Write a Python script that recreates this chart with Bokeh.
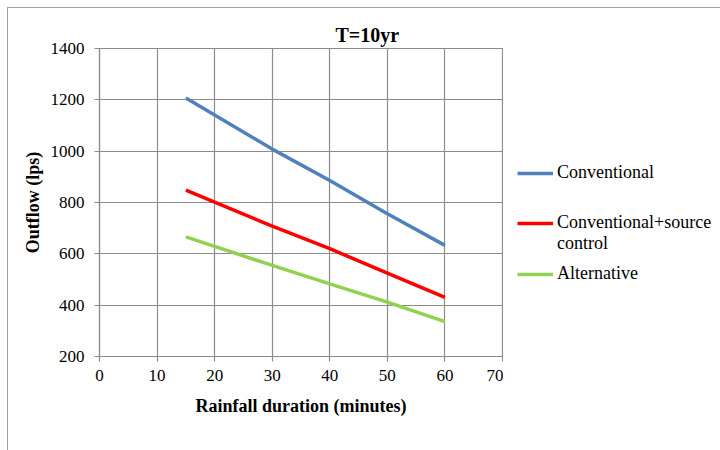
from bokeh.plotting import figure
from bokeh.layouts import row
from bokeh.models import Range1d, SingleIntervalTicker, Title, Legend, LegendItem
from bokeh.embed import file_html
from bokeh.resources import INLINE

durations = [15, 30, 40, 50, 60]
conventional = [1207, 1008, 886, 756, 633]
conv_source = [848, 708, 620, 525, 430]
alternative = [666, 555, 483, 412, 336]
series_names = ["Conventional", "Conventional+source", "control", "Alternative"]
series_colors = ["#4f81bd", "#ff0000", "#92d050"]
title_text = "T=10yr"
x_label = "Rainfall duration (minutes)"
y_label = "Outflow (lps)"

FONT = "Liberation Serif"
GRID = "#8c8c8c"

p = figure(width=495, height=442, output_backend="svg", toolbar_location=None,
           x_range=Range1d(0, 70), y_range=Range1d(200, 1400),
           min_border_left=91, min_border_right=1, min_border_top=40, min_border_bottom=94)
p.title = None
p.add_layout(Title(text=title_text, align="left", offset=236, text_font=FONT,
                   text_font_size="20px", text_font_style="bold", text_color="black",
                   standoff=6), "above")

p.outline_line_color = GRID
p.outline_line_width = 1.2
p.background_fill_color = "white"
p.border_fill_color = "white"

p.xaxis.ticker = SingleIntervalTicker(interval=10)
p.yaxis.ticker = SingleIntervalTicker(interval=200)
for ax in (p.xaxis, p.yaxis):
    ax.axis_line_color = GRID
    ax.axis_line_width = 1.2
    ax.major_tick_line_color = GRID
    ax.major_tick_line_width = 1.2
    ax.major_tick_out = 5
    ax.major_tick_in = 0
    ax.minor_tick_line_color = None
    ax.major_label_text_font = FONT
    ax.major_label_text_font_size = "17px"
    ax.major_label_text_color = "black"
    ax.axis_label_text_font = FONT
    ax.axis_label_text_font_size = "18px"
    ax.axis_label_text_font_style = "bold"
    ax.axis_label_text_color = "black"
p.xaxis.axis_label = x_label
p.yaxis.axis_label = y_label
p.xaxis.major_label_standoff = 8
p.xaxis.axis_label_standoff = 12
p.yaxis.major_label_standoff = 10
p.yaxis.axis_label_standoff = 5

p.xgrid.grid_line_color = GRID
p.ygrid.grid_line_color = GRID
p.xgrid.grid_line_width = 1.2
p.ygrid.grid_line_width = 1.2

p.line(durations, conventional, line_color=series_colors[0], line_width=3.5)
p.line(durations, conv_source, line_color=series_colors[1], line_width=3.5)
p.line(durations, alternative, line_color=series_colors[2], line_width=3.5)

# Legend panel to the right of the chart (its lines lie outside its 0..1 ranges,
# so only the legend samples show)
lf = figure(width=217, height=442, output_backend="svg", toolbar_location=None,
            x_range=Range1d(0, 1), y_range=Range1d(0, 1),
            min_border_left=0, min_border_right=0, min_border_top=0, min_border_bottom=0)
lf.title = None
lf.axis.visible = False
lf.grid.visible = False
lf.outline_line_color = None
lf.border_fill_color = "white"

g1 = lf.line(durations, conventional, line_color=series_colors[0], line_width=3.5)
g2 = lf.line(durations, conv_source, line_color=series_colors[1], line_width=3.5)
g3 = lf.line(durations, alternative, line_color=series_colors[2], line_width=3.5)
g_blank = lf.line(durations, alternative, line_alpha=0)

FRAME_BOTTOM = 354  # page y of the legend panel frame's bottom edge


def legend_at(items, bottom_px):
    lg = Legend(items=items, location=(14, FRAME_BOTTOM - bottom_px))
    lg.padding = 0
    lg.margin = 0
    lg.spacing = 0
    lg.border_line_color = None
    lg.background_fill_alpha = 0
    lg.glyph_width = 36
    lg.glyph_height = 20
    lg.label_height = 20
    lg.label_standoff = 4
    lg.label_text_font = FONT
    lg.label_text_font_size = "18px"
    lg.label_text_color = "black"
    lf.add_layout(lg, "center")


legend_at([LegendItem(label=series_names[0], renderers=[g1])], 181)
legend_at([LegendItem(label=series_names[1], renderers=[g2]),
           LegendItem(label=series_names[2], renderers=[g_blank])], 252)
legend_at([LegendItem(label=series_names[3], renderers=[g3])], 282)

layout = row(p, lf, spacing=0)
layout.styles = {"margin-left": "7px", "margin-top": "7px",
                 "border-left": "1px solid #a0a0a0", "border-top": "1px solid #a0a0a0"}

open("out.html", "w").write(file_html(layout, INLINE))
